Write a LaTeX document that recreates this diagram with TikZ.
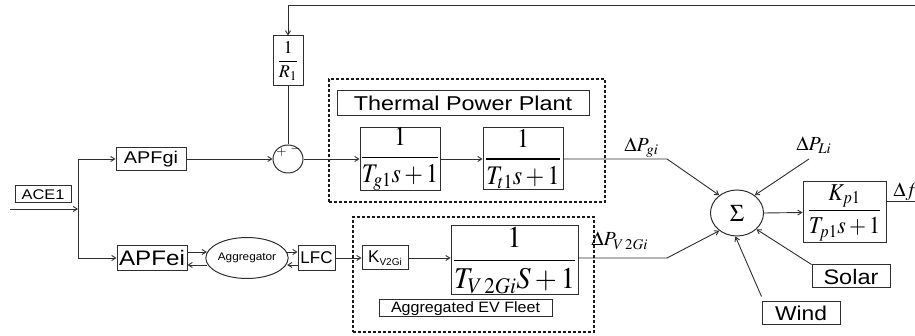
\documentclass[tikz,border=0pt]{standalone}
\usepackage{amsmath}
\usepackage{mathptmx}
\usepackage[no-math]{fontspec}
\setmainfont{Liberation Sans}
\usepackage{graphicx}
\usetikzlibrary{arrows.meta,shapes.geometric,calc}
\newcommand{\hs}[2]{\scalebox{#1}[1]{#2}}
\newcommand{\fs}[1]{\fontsize{#1}{#1}\selectfont}
\begin{document}
\begin{tikzpicture}[x=1pt,y=-1pt,
  color=black!82,
  line width=0.9pt,
  box/.style={draw, line width=1pt, inner sep=0pt, rectangle, text=black},
  oval/.style={draw, line width=1pt, inner sep=0pt, ellipse, text=black},
  arr/.style={-{Straight Barb[length=4pt,width=5pt]}},
  grp/.style={draw=black!90, line width=1.6pt, dash pattern=on 3pt off 2pt, inner sep=0pt, rectangle},
  lbl/.style={anchor=base west, inner sep=0pt, text=black},
]
\useasboundingbox (0,0) rectangle (915,336);

% groups
\node[grp, minimum width=276pt, minimum height=123pt] (thermal) at (467,140.5) {};
\node[grp, minimum width=241pt, minimum height=115pt] (ev) at (473.5,274.5) {};

% blocks
\node[box,minimum width=56pt,minimum height=17pt] (ace) at (43,194.5) {\fs{14}\hs{1.17}{ACE1}};
\node[box,minimum width=70pt,minimum height=23pt] (apfgi) at (151,159) {\fs{17}\hs{1.17}{APFgi}};
\node[box,minimum width=70pt,minimum height=25pt] (apfei) at (152,258) {\fs{21}\hs{1.15}{APFei}};
\node[oval,minimum width=70pt,minimum height=41pt] (agg) at (247,258) {\fs{11}\hs{1.07}{Aggregator}};
\node[box,minimum width=37pt,minimum height=25pt] (lfc) at (316.5,258) {\fs{17}LFC};
\node[box,minimum width=30pt,minimum height=50pt] (rbox) at (288,61) {\fs{18}$\dfrac{1}{R_1}$};
\node[oval,minimum width=30pt,minimum height=28pt] (sum) at (288,159) {};
\node[text=black,inner sep=0pt] (plus) at (281.5,152.5) {\fs{13}$\boldsymbol{+}$};
\node[text=black,inner sep=0pt] (minus) at (295.5,149.5) {\fs{13}$\boldsymbol{-}$};
\node[box,minimum width=252pt,minimum height=25pt] (tpp) at (463,103.5) {\fs{20}\hs{1.17}{Thermal Power Plant}};
\node[box,minimum width=80pt,minimum height=62pt] (g1) at (400,159) {\scalebox{1}[1.12]{\fs{24}$\dfrac{1}{T_{g1}s+1}$}};
\node[box,minimum width=80pt,minimum height=62pt] (t1) at (523,159) {\scalebox{1}[1.12]{\fs{24}$\dfrac{1}{T_{t1}s+1}$}};
\node[box,minimum width=46pt,minimum height=24pt] (k) at (385,258) {\fs{17}K\raisebox{-3pt}{\fs{10}V2Gi}};
\node[box,minimum width=127pt,minimum height=69pt] (v2g) at (514.5,260.5) {\scalebox{1.05}[1.12]{\fs{27}$\dfrac{1}{T_{V\,2Gi}S+1}$}};
\node[box,minimum width=173pt,minimum height=17pt] (aef) at (465.5,308.5) {\fs{15}\hs{1.07}{Aggregated EV Fleet}};
\node[oval,minimum width=53pt,minimum height=46pt] (sig) at (737,213) {\fs{24}$\Sigma$};
\node[box,minimum width=83pt,minimum height=61pt] (kp) at (844.5,212.5) {\scalebox{1}[1.1]{\fs{22}$\dfrac{K_{p1}}{T_{p1}s+1}$}};
\node[box,minimum width=78pt,minimum height=23pt] (solar) at (851,276.5) {\fs{21}\hs{1.12}{Solar}};
\node[box,minimum width=78pt,minimum height=23pt] (wind) at (801,313.5) {\fs{20}\hs{1.14}{Wind}};

% labels
\node[lbl] (lgi) at (624,152) {\fs{20}$\Delta P_{gi}$};
\node[lbl] (lli) at (796,151) {\fs{20}$\Delta P_{Li}$};
\node[lbl] (lv2g) at (591,246) {\fs{20}$\Delta P_{V\,2Gi}$};
\node[lbl] (ldf) at (893,197) {\fs{20}$\Delta f$};

% free ends / bends
\coordinate (in) at (10,209);
\coordinate (j) at (78,209);
\coordinate (tr) at (915,5);
\coordinate (fr) at (915,201);
\coordinate (bgi) at (667,159);
\coordinate (bv) at (667,258);
\coordinate (li) at (809,159);

% connectors
\draw[arr] (in) -- (j);
\draw[arr] (j) |- (apfgi.west);
\draw[arr] (j) |- (apfei.west);
\draw[arr] (apfgi.east) -- (sum.west);
\draw (rbox.south) -- (sum.north);
\draw[arr] (tr) -| (rbox.north);
\draw[arr] (sum.east) -- (g1.west);
\draw[arr] (g1.east) -- (t1.west);
\draw[arr] (t1.east) -- (bgi) -- (sig.135);
\draw[arr] (li) -- (sig.45);
\draw[arr] ($(apfei.east)+(0,-6)$) -- ($(agg.west)+(1.5,-6)$);
\draw[arr] ($(agg.west)+(1.5,7)$) -- ($(apfei.east)+(0,7)$);
\draw[arr] ($(agg.east)+(-1.5,-6)$) -- ($(lfc.west)+(0,-6)$);
\draw[arr] ($(lfc.west)+(0,7)$) -- ($(agg.east)+(-1.5,7)$);
\draw[arr] (lfc.east) -- (k.west);
\draw[arr] (k.east) -- (k.east -| v2g.west);
\draw[arr] (v2g.east |- bv) -- (bv) -- (sig.225);
\draw[arr] (solar.north west) -- (sig.320);
\draw[arr] ($(wind.north west)+(0,-5)$) -- (sig.266);
\draw[arr] (sig.east) -- (kp.west);
\draw (kp.east |- fr) -- (fr);
\end{tikzpicture}
\end{document}
